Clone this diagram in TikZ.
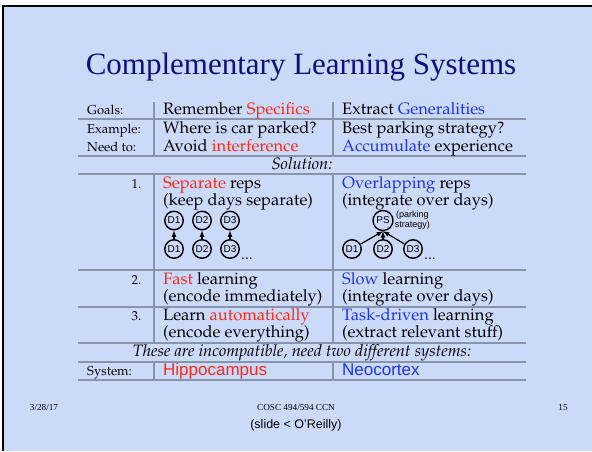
\documentclass[tikz,border=0pt]{standalone}
\usepackage[T1]{fontenc}
\usepackage{fontspec}
\setmainfont{Liberation Serif}
\setsansfont{Liberation Sans}
\usepackage{tikz}
\usetikzlibrary{positioning,calc}
\definecolor{folie}{RGB}{204,218,250}
\definecolor{titelblau}{RGB}{15,15,125}
\definecolor{gitter}{RGB}{135,148,172}
\definecolor{rot}{RGB}{255,40,25}
\definecolor{blau}{RGB}{30,50,245}
\newcommand\pal{\fontencoding{T1}\fontfamily{ppl}\selectfont}

\begin{document}
\begin{tikzpicture}[x=1pt,y=-1pt,
  txt/.style={anchor=base west,inner sep=0pt,font=\pal\fontsize{16.5}{19}\selectfont},
  lbl/.style={anchor=base west,inner sep=0pt,font=\pal\fontsize{13}{15}\selectfont},
  nr/.style={anchor=base east,inner sep=0pt,font=\pal\fontsize{13}{15}\selectfont},
  mitte/.style={anchor=base,inner sep=0pt,font=\pal\itshape\fontsize{16.5}{19}\selectfont},
  system/.style={anchor=base west,inner sep=0pt,font=\sffamily\fontsize{17}{19}\selectfont},
  kreis/.style={circle,draw,line width=1.4pt,inner sep=0pt,minimum size=18.5pt,font=\sffamily\fontsize{10}{11}\selectfont},
  pfeil/.style={-latex,line width=1.2pt},
  linie/.style={draw=gitter,line width=1.3pt},
  fuss/.style={inner sep=0pt,font=\fontsize{9.2}{11}\selectfont}]
%Seite: 592 x 451, eine Einheit = ein Pixel, y zeigt nach unten
\useasboundingbox (0,0) rectangle (592,451);
\fill[white] (0,0) rectangle (592,451);
\fill[folie] (3,6) rectangle (592,451);
\draw[line width=2pt] (3,451) -- (3,6) -- (592,6);
\node[anchor=base,inner sep=0pt,text=titelblau,font=\fontsize{31}{36}\selectfont] (titel) at (301,74) {Complementary Learning Systems};
%Tabelle: waagrechte Linien, senkrechte Linien mit Luecken fuer die Zeilen ueber die ganze Breite
\foreach \y in {119,156,174,270,307,343,362,380}{
\draw[linie] (78,\y) -- (526,\y);
}
\foreach \x in {154,333}{
\draw[linie] (\x,102) -- (\x,156);
\draw[linie] (\x,174) -- (\x,343);
\draw[linie] (\x,362) -- (\x,380);
}
\node[lbl] (goals) at (87,114) {Goals:};
\node[txt] (goalsL) at (163,114) {Remember \textcolor{rot}{Specifics}};
\node[txt] (goalsR) at (342,114) {Extract \textcolor{blau}{Generalities}};
\node[lbl] (example) at (87,133) {Example:};
\node[txt] (exampleL) at (163,133) {Where is car parked?};
\node[txt] (exampleR) at (342,133) {Best parking strategy?};
\node[lbl] (needto) at (87,151) {Need to:};
\node[txt] (needtoL) at (163,151) {Avoid \textcolor{rot}{interference}};
\node[txt] (needtoR) at (342,151) {\textcolor{blau}{Accumulate} experience};
\node[mitte] (solution) at (302,169) {Solution:};
\node[nr] (eins) at (141.5,188) {1.};
\node[txt] (einsL) at (163,188) {\textcolor{rot}{Separate} reps};
\node[txt] (einsLb) at (163,205) {(keep days separate)};
\node[txt] (einsR) at (342,188) {\textcolor{blau}{Overlapping} reps};
\node[txt] (einsRb) at (342,205) {(integrate over days)};
%getrennte Repraesentationen: jeder Tag fuer sich
\foreach \i/\x in {1/174,2/202,3/230}{
\node[kreis] (do\i) at (\x,220.5) {D\i};
\node[kreis] (du\i) at (\x,249) {D\i};
\draw[pfeil] (du\i) -- (do\i);
}
\node[anchor=base west,inner sep=0pt,font=\sffamily\fontsize{14}{15}\selectfont] (punkteL) at (241,259) {...};
%ueberlappende Repraesentationen: alle Tage auf PS
\node[kreis,minimum size=20pt] (ps) at (383,220.5) {PS};
\node[right=1pt of ps,inner sep=0pt,align=center,font=\sffamily\fontsize{9}{10}\selectfont] (strategie) {(parking\\strategy)};
\foreach \i/\x in {1/352,2/383,3/413}{
\node[kreis] (dr\i) at (\x,249) {D\i};
\draw[pfeil] (dr\i) -- (ps.south);
}
\node[anchor=base west,inner sep=0pt,font=\sffamily\fontsize{14}{15}\selectfont] (punkteR) at (424,259) {...};
\node[nr] (zwei) at (141.5,284) {2.};
\node[txt] (zweiL) at (163,284) {\textcolor{rot}{Fast} learning};
\node[txt] (zweiLb) at (163,301) {(encode immediately)};
\node[txt] (zweiR) at (342,284) {\textcolor{blau}{Slow} learning};
\node[txt] (zweiRb) at (342,301) {(integrate over days)};
\node[nr] (drei) at (141.5,320) {3.};
\node[txt] (dreiL) at (163,320) {Learn \textcolor{rot}{automatically}};
\node[txt] (dreiLb) at (163,337) {(encode everything)};
\node[txt] (dreiR) at (342,320) {\textcolor{blau}{Task-driven} learning};
\node[txt] (dreiRb) at (342,337) {(extract relevant stuff)};
\node[mitte] (fazit) at (302,356) {These are incompatible, need two different systems:};
\node[lbl] (system) at (87,375) {System:};
\node[system,text=rot] (hippo) at (163,375) {Hippocampus};
\node[system,text=blau] (neo) at (342,375) {Neocortex};
%Fusszeile
\node[fuss] (datum) at (44,407) {3/28/17};
\node[fuss] (kurs) at (296,407) {COSC 494/594 CCN};
\node[fuss] (seite) at (563,407) {15};
\node[inner sep=0pt,font=\sffamily\fontsize{12.5}{14}\selectfont] (quelle) at (296,425) {(slide < O’Reilly)};
\end{tikzpicture}
\end{document}
